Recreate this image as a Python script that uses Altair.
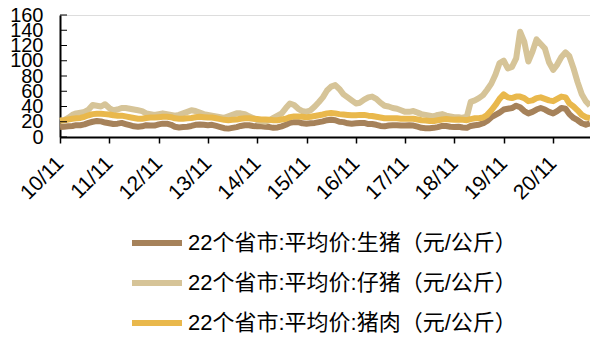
import altair as alt
import pandas as pd

# Monthly observations, Nov 2010 .. Aug 2021 (yuan/kg)
hog = [13, 13.5, 14, 14.5, 15.5, 15.5, 16.5, 18.5, 20, 21, 20.5, 19, 18, 17, 17.5, 18.5, 17, 15.5, 14, 13.5,
       14, 15.5, 15, 15, 16.5, 17.5, 17.5, 16, 13.5, 12.5, 13, 13.5, 14.5, 16, 16.5, 16, 15.5, 16, 14.5, 13,
       11.5, 11, 12, 13, 14.5, 15.5, 15.5, 14.5, 14, 14, 13.5, 13, 12, 12.5, 14, 16, 18.5, 19.5, 19.5, 18,
       17.5, 18, 18.5, 19.5, 20.5, 22, 22.5, 22, 20, 19.5, 18, 17.5, 18, 18.5, 18.5, 17, 17, 16, 14.5, 14,
       15, 15.5, 15.5, 15, 15, 15.5, 15, 13.5, 12, 11.5, 11.5, 12, 13, 14.5, 14.5, 13.5, 13, 13.5, 12.5, 12,
       14.5, 15.5, 16, 18, 21, 26, 29, 32, 36, 37, 38, 41, 39, 34, 31, 33, 36, 38, 36, 33,
       31, 34, 38, 37, 30, 25, 22, 18, 16, 18]
piglet = [21, 22, 25, 29, 31, 32, 33, 36, 42, 41, 40, 43, 38, 35, 36, 38, 38, 37, 36, 35,
          34, 31, 30, 29, 30, 31, 30, 29, 28, 29, 31, 33, 35, 34, 32, 30, 29, 28, 27, 26,
          25, 27, 29, 31, 31, 30, 27, 25, 22, 21, 20, 22, 25, 28, 31, 38, 44, 42, 37, 34,
          33, 35, 40, 46, 52, 61, 66, 68, 63, 56, 52, 48, 44, 45, 49, 52, 53, 50, 45, 41,
          40, 38, 37, 35, 33, 33, 34, 32, 30, 29, 28, 27, 29, 30, 28, 27, 26, 26, 25, 27,
          46, 48, 51, 55, 62, 70, 82, 97, 100, 90, 92, 103, 138, 125, 99, 112, 128, 122, 116, 98,
          88, 95, 105, 111, 106, 90, 72, 56, 47, 41]
pork = [21.5, 22, 23, 24, 24.5, 25, 26.5, 28.5, 30, 30.5, 30.5, 30, 29.5, 28.5, 28, 28, 27, 26, 25, 24,
        24, 25, 25.5, 25.5, 26, 26.5, 26.5, 26, 24.5, 24, 24, 24.5, 25, 26, 26.5, 26, 25.5, 25.5, 24.5, 23.5,
        22.5, 22, 22.5, 23, 24, 24.5, 24.5, 24, 23.5, 23, 23, 22.5, 22, 22, 23, 24, 26, 27, 27, 26.5,
        26, 26.5, 27.5, 28.5, 29.5, 31, 31.5, 31, 30, 29.5, 29, 28.5, 28.5, 29, 29, 28, 27.5, 26.5, 25.5, 24.5,
        24.5, 24.5, 24.5, 24, 24, 24, 24, 23, 22, 21.5, 21, 21, 22, 23, 23.5, 23, 22.5, 23, 22.5, 22,
        23.5, 24.5, 24.5, 25.5, 29, 35, 42, 50, 56, 52, 51, 53, 53, 51, 47, 48, 51, 52, 50, 48,
        47, 50, 53, 52, 44, 40, 35, 29, 26, 25]

series_names = ["22个省市:平均价:生猪（元/公斤）",
                "22个省市:平均价:仔猪（元/公斤）",
                "22个省市:平均价:猪肉（元/公斤）"]
series_colors = ["#A6825A", "#D6C498", "#E9B84C"]
y_ticks = [0, 20, 40, 60, 80, 100, 120, 140, 160]
x_tick_years = list(range(2010, 2021))

dates = pd.date_range("2010-11-01", periods=len(hog), freq="MS")
rows = []
for name, vals in zip(series_names, [hog, piglet, pork]):
    for d, v in zip(dates, vals):
        rows.append({"date": d, "series": name, "value": v, "order": series_names.index(name)})
df = pd.DataFrame(rows)

FONT = "Liberation Sans, Arial, Noto Sans CJK SC"

y_axis = alt.Axis(title=None, values=y_ticks, ticks=False, labelFontSize=20,
                  labelFont=FONT, labelColor="black", labelOverlap=False,
                  labelFlush=False, labelBound=False, labelPadding=17,
                  domainColor="black", domainWidth=2, grid=False)
y_scale = alt.Scale(domain=[0, 160], nice=False)

lines = alt.Chart(df).mark_line(strokeWidth=6, strokeJoin="round").encode(
    x=alt.X("date:T",
            scale=alt.Scale(domain=[alt.DateTime(year=2010, month=11, date=1),
                                    alt.DateTime(year=2021, month=8, date=1)]),
            axis=alt.Axis(title=None, format="%y/%m",
                          values=[alt.DateTime(year=y, month=11, date=1) for y in x_tick_years],
                          labelAngle=-45, labelAlign="right", labelBaseline="middle",
                          labelFontSize=21, labelFont=FONT, labelColor="black",
                          labelOverlap=False, labelFlush=False, labelBound=False,
                          tickSize=6, tickWidth=1.5, tickColor="black",
                          domainColor="black", domainWidth=2, grid=False, labelPadding=17)),
    y=alt.Y("value:Q", scale=y_scale, axis=y_axis),
    color=alt.Color("series:N",
                    scale=alt.Scale(domain=series_names, range=series_colors),
                    legend=alt.Legend(title=None, orient="none", legendX=69, legendY=200,
                                      direction="vertical", symbolType="stroke",
                                      symbolSize=2500, symbolStrokeWidth=6,
                                      rowPadding=0, labelFontSize=22, labelFont=FONT,
                                      labelColor="black", labelLimit=600, labelOffset=3)),
    detail="series:N",
    order="order:Q",
)

tick_df = pd.DataFrame({"value": y_ticks})
yticks = alt.Chart(tick_df).mark_rule(color="black", strokeWidth=1).encode(
    y=alt.Y("value:Q", scale=y_scale, axis=y_axis),
    x=alt.value(0),
    x2=alt.value(7),
)

chart = alt.layer(lines, yticks).properties(
    width=530, height=122,
    autosize=alt.AutoSizeParams(type="none"),
    padding={"left": 60, "top": 15, "right": 0, "bottom": 201},
).configure_view(stroke=None).configure(background="white")

chart.save("out.html", embed_options={"renderer": "svg", "actions": False})
